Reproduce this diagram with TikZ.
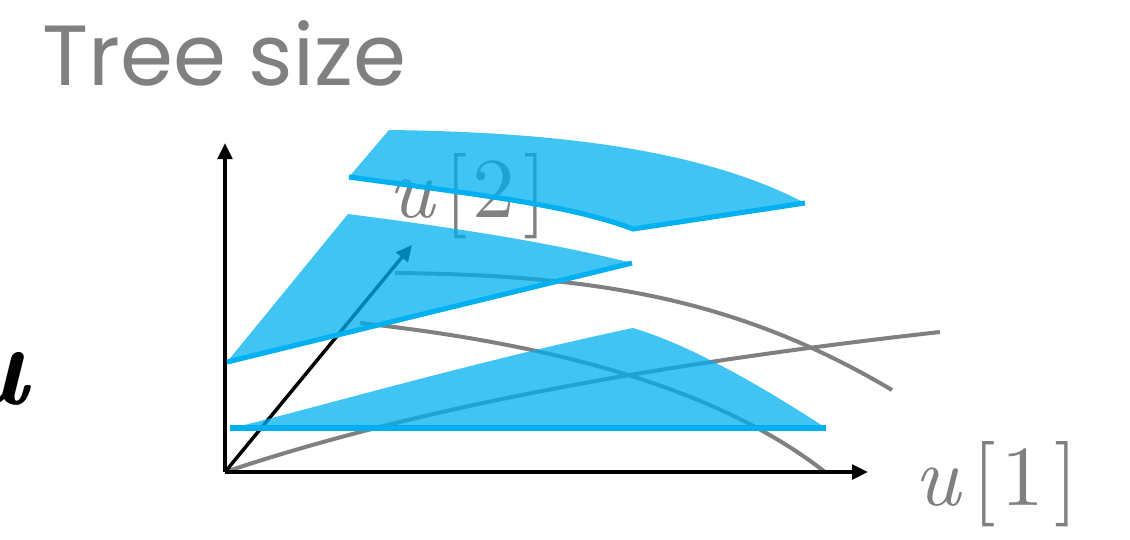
\documentclass[tikz,border=0pt]{standalone}
\usepackage{fontspec}
\newfontfamily\titlefont{Poppins}
\newfontfamily\lblfont{lmroman10-regular.otf}[ItalicFont=lmroman10-italic.otf, BoldItalicFont=lmroman10-bolditalic.otf, BoldFont=lmroman10-bold.otf]
\usetikzlibrary{arrows.meta}
\definecolor{axgray}{HTML}{808080}
\definecolor{planeblue}{HTML}{00B0F0}
\begin{document}
\begin{tikzpicture}[x=0.75pt,y=-0.75pt,
  axis/.style={black, line width=2.6pt, -{Triangle[length=12pt,width=11pt]}},
  curve/.style={axgray, line width=3pt},
  planefill/.style={fill=planeblue, fill opacity=0.75},
  planeedge/.style={planeblue, line width=3.8pt},
  lbl/.style={text=axgray, inner sep=0pt, font=\lblfont\fontsize{64}{66}\selectfont}]
\useasboundingbox (0,0) rectangle (1130,539);
% texts
\node[anchor=base west, inner sep=0pt, text=axgray, font=\titlefont\fontsize{64}{70}\selectfont] (title) at (42,85) {Tree size};
\node[anchor=base east, inner sep=0pt, font=\lblfont\bfseries\itshape\fontsize{88}{90}\selectfont] (uvec) at (28,404) {u};
\node[lbl, anchor=base west] (u2) at (388,217) {\textit{u}\kern0.1em[\kern0.05em2\kern0.1em]};
\node[lbl, anchor=base west] (u1) at (914,505) {\textit{u}\kern0.12em[\kern0.06em1\kern0.12em]};
% coordinates
\coordinate (O) at (225,472);
\coordinate (ytip) at (225,143);
\coordinate (xtip) at (868,472);
\coordinate (dtip) at (412,245);
\coordinate (c1e) at (940,332);
\coordinate (c2s) at (360,323);
\coordinate (c2e) at (825,472);
\coordinate (c3s) at (395,273);
\coordinate (c3e) at (892,390);
% gray curves
\draw[curve] (O) .. controls (380,420) and (600,370) .. (c1e);
\draw[curve] (c2s) .. controls (560,345) and (720,390) .. (c2e);
\draw[curve] (c3s) .. controls (600,275) and (740,300) .. (c3e);
% axes
\draw[axis] (O) -- (ytip);
\draw[axis] (O) -- (xtip);
\draw[axis] (O) -- (dtip);
% bottom plane
\coordinate (bl) at (230,428);
\coordinate (br) at (826,428);
\coordinate (bapex) at (633,328);
\fill[planefill] (232,428) .. controls (300,412) and (480,360) .. (bapex)
  .. controls (690,345) and (760,385) .. (br) -- cycle;
\draw[planeedge] (bl) -- (br);
% middle plane
\coordinate (ml) at (227,362);
\coordinate (mtl) at (348,214);
\coordinate (mr) at (632,263);
\fill[planefill] (ml) -- (mtl) .. controls (440,226) and (540,240) .. (mr) -- cycle;
\draw[planeedge] (ml) -- (mr);
% top plane
\coordinate (tl) at (349,177);
\coordinate (ttl) at (389,130);
\coordinate (tr) at (805,203);
\coordinate (tm) at (633,229);
\fill[planefill] (tl) -- (ttl) .. controls (550,132) and (700,148) .. (tr) -- (tm)
  .. controls (570,205) and (480,195) .. (tl);
\draw[planeedge] (tl) .. controls (480,195) and (570,205) .. (tm) -- (tr);
\end{tikzpicture}
\end{document}
